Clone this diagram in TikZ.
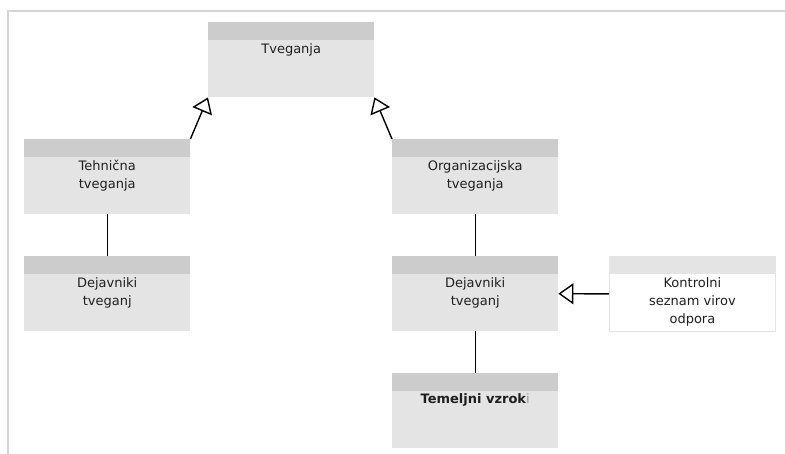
\documentclass[tikz,border=0pt]{standalone}
\usepackage{fontspec}
\setmainfont{DejaVu Sans}
\usetikzlibrary{arrows.meta,calc}
\definecolor{hdr}{HTML}{CCCCCC}
\definecolor{bodyc}{HTML}{E4E4E4}
\definecolor{frame}{HTML}{D4D4D4}
\definecolor{cursor}{HTML}{9A9A9A}
\begin{document}
\begin{tikzpicture}[x=1pt,y=-1pt,
  lbl/.style={anchor=base,align=center,font=\fontsize{13}{18}\selectfont,inner sep=0pt,text=black!88},
  assoc/.style={draw=black,line width=1.4pt},
  gen/.style={draw=black,line width=1.4pt,-{Triangle[open,length=15pt,width=21pt,fill=white]}},
  cbox/.style={minimum width=166pt,minimum height=75pt,inner sep=0pt,anchor=north west,fill=bodyc,
    path picture={\fill[hdr] (path picture bounding box.north west) rectangle ([yshift=-18pt]path picture bounding box.north east);}},
  nbox/.style={minimum width=166pt,minimum height=75pt,inner sep=0pt,anchor=north west,fill=white,draw=bodyc,line width=0.8pt,
    path picture={\fill[bodyc] (path picture bounding box.north west) rectangle ([yshift=-18pt]path picture bounding box.north east);}}]
\useasboundingbox (0,0) rectangle (785,454);
% outer frame
\draw[frame,line width=2pt] (8,454) -- (8,11) -- (785,11);
% class boxes
\node[cbox] (root) at (208,22) {};
\node[cbox] (tech) at (24,139) {};
\node[cbox] (fac1) at (24,256) {};
\node[cbox] (org) at (392,139) {};
\node[cbox] (fac2) at (392,256) {};
\node[cbox] (cause) at (392,373) {};
\node[nbox] (ctrl) at (609,256) {};
% class names; the base anchor sits on the last line, first baseline 32pt below the top
\node[lbl] (rootT) at ([yshift=-32pt]root.north) {Tveganja};
\node[lbl] (techT) at ([yshift=-50pt]tech.north) {Tehnična\\tveganja};
\node[lbl] (fac1T) at ([yshift=-50pt]fac1.north) {Dejavniki\\tveganj};
\node[lbl] (orgT) at ([yshift=-50pt]org.north) {Organizacijska\\tveganja};
\node[lbl] (fac2T) at ([yshift=-50pt]fac2.north) {Dejavniki\\tveganj};
\node[lbl] (ctrlT) at ([yshift=-68pt]ctrl.north) {Kontrolni\\seznam virov\\odpora};
\node[lbl] (causeT) at ([yshift=-30pt]cause.north) {\bfseries Temeljni vzrok{\color{cursor}\mdseries i}};
% connectors
\draw[gen] (tech.north east) -- (root.south west);
\draw[gen] (org.north west) -- (root.south east);
\draw[assoc] (tech.south) -- (fac1.north);
\draw[assoc] (org.south) -- (fac2.north);
\draw[assoc] (fac2.south) -- (cause.north);
\draw[gen] (ctrl.west) -- (fac2.east);
\end{tikzpicture}
\end{document}
